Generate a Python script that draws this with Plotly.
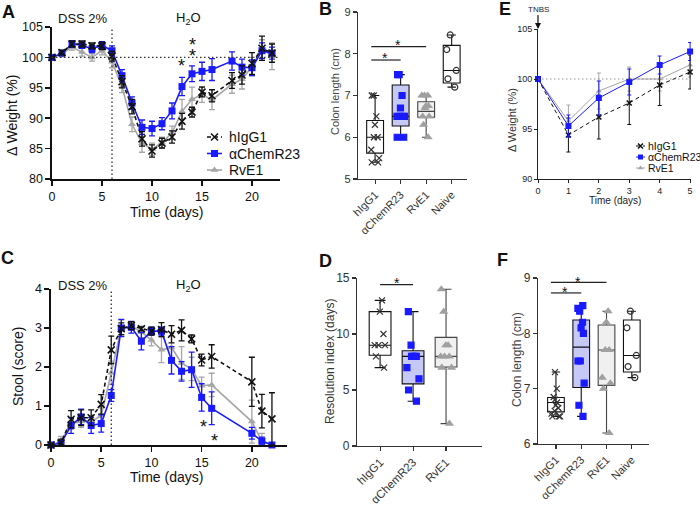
import plotly.graph_objects as go

FONT = "Arial, Liberation Sans, sans-serif"
BLUE = "#1a1aff"
GRAY = "#a6a6a6"
BLACK = "#111111"
W, H = 700, 506

# ---------------- Panel A: DSS body weight ----------------
days_a = [0, 1, 2, 3, 4, 5, 6, 7, 8, 9, 10, 11, 12, 13, 14, 15, 16, 18, 19, 20, 21, 22]
wa_igg = [100, 100.8, 102.2, 102.2, 101.9, 101.9, 100.2, 96.0, 91.9, 86.6, 84.6, 85.9, 86.9, 89.5, 91.0, 94.3, 93.7, 96.2, 97.1, 99.0, 101.5, 100.7]
wa_igg_err = [0, 0.4, 0.5, 0.5, 0.5, 0.6, 0.8, 1.0, 1.2, 1.2, 1.0, 0.8, 1.0, 1.3, 0.8, 0.8, 1.0, 1.3, 1.5, 1.8, 2.0, 1.5]
wa_chem = [100, 100.7, 102.2, 102.0, 101.4, 102.0, 101.1, 97.0, 92.5, 88.5, 88.3, 89.1, 91.2, 95.2, 97.3, 97.7, 98.0, 99.4, 98.4, 98.3, 101.1, 100.7]
wa_chem_err = [0, 0.4, 0.5, 0.5, 0.6, 0.6, 0.8, 1.0, 1.0, 1.2, 1.2, 1.0, 1.3, 1.5, 1.3, 1.5, 1.8, 1.5, 1.3, 1.3, 1.3, 1.0]
wa_rve = [100, 100.6, 101.7, 100.9, 100.0, 101.1, 99.3, 95.2, 89.0, 85.9, 84.9, 86.0, 87.6, 91.1, 93.1, 93.9, 93.0, 95.6, 96.4, 98.5, 101.4, 100.2]
wa_rve_err = [0, 0.5, 0.5, 0.7, 0.6, 0.7, 1.0, 1.0, 1.2, 1.5, 1.0, 0.9, 1.1, 2.0, 2.0, 1.3, 1.6, 1.5, 1.6, 1.5, 1.5, 2.2]

# ---------------- Panel C: stool score ----------------
days_c = [0, 1, 2, 3, 4, 5, 6, 7, 8, 9, 10, 11, 12, 13, 14, 15, 16, 20, 21, 22]
sc_igg = [0, 0.05, 0.66, 0.7, 0.7, 1.04, 2.44, 2.98, 3.06, 2.98, 2.92, 2.96, 2.84, 2.94, 2.72, 2.18, 2.27, 1.62, 0.87, 0.67]
sc_igg_err = [0, 0.1, 0.22, 0.2, 0.2, 0.25, 0.35, 0.15, 0.1, 0.05, 0.1, 0.18, 0.22, 0.27, 0.1, 0.15, 0.3, 0.63, 0.43, 0.67]
sc_chem = [0, 0.05, 0.5, 0.72, 0.5, 0.55, 1.27, 3.0, 3.02, 2.66, 2.92, 2.92, 2.17, 1.89, 1.93, 1.22, 0.94, 0.3, 0.1, 0.0]
sc_chem_err = [0, 0.05, 0.2, 0.2, 0.2, 0.22, 0.15, 0.22, 0.15, 0.22, 0.1, 0.1, 0.35, 0.25, 0.45, 0.35, 0.42, 0.15, 0.1, 0.05]
sc_rve = [0, 0.1, 0.55, 0.6, 0.6, 0.75, 1.85, 3.0, 3.05, 2.9, 2.69, 2.44, 2.5, 2.1, 1.95, 1.52, 1.54, 0.6, 0.1, 0.0]
sc_rve_err = [0, 0.12, 0.15, 0.15, 0.15, 0.2, 0.3, 0.2, 0.1, 0.15, 0.15, 0.33, 0.3, 0.42, 0.3, 0.22, 0.3, 0.55, 0.2, 0.05]

# ---------------- Panel E: TNBS body weight ----------------
days_e = [0, 1, 2, 3, 4, 5]
we_igg = [100, 94.4, 96.2, 97.6, 99.4, 100.7]
we_igg_err = [0, 1.7, 2.2, 2.15, 2.05, 1.7]
we_chem = [100, 95.3, 98.1, 99.7, 101.4, 102.75]
we_chem_err = [0, 1.1, 1.7, 1.3, 0.9, 0.9]
we_rve = [100, 95.8, 98.8, 100.0, 100.0, 101.4]
we_rve_err = [0, 1.6, 1.8, 1.2, 1.2, 1.2]

# ---------------- Panel B: colon length (DSS) ----------------
cats_b = ["hIgG1", "αChemR23", "RvE1", "Naive"]
b_q1 = [5.62, 6.27, 6.48, 7.3]
b_med = [6.0, 6.5, 6.62, 7.6]
b_q3 = [6.4, 7.25, 6.85, 8.2]
b_lo = [5.4, 6.0, 6.0, 7.2]
b_hi = [7.0, 7.5, 7.0, 8.45]
b_pts = [
    [7.0, 7.0, 6.5, 6.3, 6.0, 6.0, 5.7, 5.5, 5.4, 5.4],
    [7.5, 7.5, 7.0, 6.7, 6.5, 6.5, 6.5, 6.5, 6.0, 6.0],
    [7.0, 7.0, 7.0, 6.75, 6.75, 6.7, 6.5, 6.5, 6.3, 6.0],
    [8.45, 8.1, 7.6, 7.4, 7.2],
]

# ---------------- Panel D: resolution index ----------------
cats_d = ["hIgG1", "αChemR23", "RvE1"]
d_q1 = [8.1, 5.55, 7.05]
d_med = [9.0, 8.0, 8.0]
d_q3 = [12.0, 8.5, 9.7]
d_lo = [7, 4, 2]
d_hi = [13, 12, 14]
d_pts = [
    [13, 12, 10, 9, 9, 9, 8, 7],
    [12, 9, 8, 8, 8, 8, 7, 6, 5, 4],
    [14, 12, 9, 9, 8, 8, 8, 7, 7, 2],
]

# ---------------- Panel F: colon length (TNBS) ----------------
cats_f = ["hIgG1", "αChemR23", "RvE1", "Naive"]
f_q1 = [6.58, 7.02, 7.06, 7.3]
f_med = [6.75, 7.75, 7.7, 7.6]
f_q3 = [6.84, 8.24, 8.15, 8.24]
f_lo = [6.5, 6.5, 6.2, 7.2]
f_hi = [7.3, 8.5, 8.4, 8.4]
f_pts = [
    [7.3, 7.0, 6.85, 6.8, 6.75, 6.7, 6.65, 6.6, 6.55, 6.5, 6.5, 6.5],
    [8.5, 8.45, 8.4, 8.2, 8.1, 8.0, 7.5, 7.5, 7.1, 6.7, 6.5],
    [8.4, 8.2, 7.7, 7.7, 7.2, 7.1, 7.0, 6.2],
    [8.4, 8.1, 7.6, 7.4, 7.2],
]

groups = ["hIgG1", "αChemR23", "RvE1"]

line_style = {
    "hIgG1": dict(color=BLACK, dash="4px,3px"),
    "αChemR23": dict(color=BLUE, dash="solid"),
    "RvE1": dict(color=GRAY, dash="solid"),
}
sym = {"hIgG1": "x-thin-open", "αChemR23": "square", "RvE1": "triangle-up"}
box_fill = {"hIgG1": "white", "αChemR23": "#c6c8f6", "RvE1": "#f0f0f0", "Naive": "white"}
pt_color = {"hIgG1": "#333333", "αChemR23": BLUE, "RvE1": "#a0a0a0", "Naive": "#333333"}
pt_sym = {"hIgG1": "x-thin-open", "αChemR23": "square", "RvE1": "triangle-up", "Naive": "circle-open"}

fig = go.Figure()


def px_x(p):
    return p / W


def px_y(p):
    return 1 - p / H


def add_series(xs, ys, errs, g, xa, ya, lw, msize, ew, capw):
    st = line_style[g]
    fig.add_trace(go.Scatter(
        x=xs, y=ys, mode="lines+markers", xaxis=xa, yaxis=ya,
        line=dict(color=st["color"], width=lw, dash=st["dash"]),
        marker=dict(symbol=sym[g], size=msize, color=st["color"],
                    line=dict(color=st["color"], width=1.6 if g == "hIgG1" else 0)),
        error_y=dict(type="data", array=errs, visible=True, color=st["color"],
                     thickness=ew, width=capw),
        cliponaxis=False, showlegend=False, hoverinfo="skip"))


A_data = {"hIgG1": (wa_igg, wa_igg_err), "αChemR23": (wa_chem, wa_chem_err), "RvE1": (wa_rve, wa_rve_err)}
C_data = {"hIgG1": (sc_igg, sc_igg_err), "αChemR23": (sc_chem, sc_chem_err), "RvE1": (sc_rve, sc_rve_err)}
E_data = {"hIgG1": (we_igg, we_igg_err), "αChemR23": (we_chem, we_chem_err), "RvE1": (we_rve, we_rve_err)}
for g in ["RvE1", "αChemR23", "hIgG1"]:
    add_series(days_a, A_data[g][0], A_data[g][1], g, "x", "y", 1.6, 7, 1.3, 3)
for g in ["RvE1", "αChemR23", "hIgG1"]:
    add_series(days_c, C_data[g][0], C_data[g][1], g, "x4", "y4", 1.6, 7, 1.3, 3)
for g in ["RvE1", "hIgG1", "αChemR23"]:
    add_series(days_e, E_data[g][0], E_data[g][1], g, "x3", "y3", 1.0, 5 if g != "αChemR23" else 6, 1.0, 2)


def add_boxes(cats, q1, med, q3, lo, hi, pts, xa, ya, msize):
    for i, c in enumerate(cats):
        lc = "#444444" if c == "RvE1" else "#111111"
        fig.add_trace(go.Box(
            x=[c], q1=[q1[i]], median=[med[i]], q3=[q3[i]], lowerfence=[lo[i]], upperfence=[hi[i]],
            fillcolor=box_fill[c], line=dict(color=lc, width=1.1), width=0.66, whiskerwidth=0.5,
            boxpoints=False, xaxis=xa, yaxis=ya, showlegend=False, hoverinfo="skip"))
        fig.add_trace(go.Box(
            x=[c] * len(pts[i]), y=pts[i], boxpoints="all", jitter=0.7, pointpos=0,
            fillcolor="rgba(0,0,0,0)", line=dict(color="rgba(0,0,0,0)", width=0), width=0.66,
            marker=dict(symbol=pt_sym[c], size=msize, color=pt_color[c],
                        line=dict(color=pt_color[c], width=1.2)),
            xaxis=xa, yaxis=ya, showlegend=False, hoverinfo="skip"))


add_boxes(cats_b, b_q1, b_med, b_q3, b_lo, b_hi, b_pts, "x2", "y2", 6)
add_boxes(cats_d, d_q1, d_med, d_q3, d_lo, d_hi, d_pts, "x5", "y5", 6)
add_boxes(cats_f, f_q1, f_med, f_q3, f_lo, f_hi, f_pts, "x6", "y6", 6)


# ---------------- manual legends on a pixel-coordinate overlay axis ----------------
def legend_entry(x0, x1, y, g, msize, lw, text, tx, fs):
    st = line_style[g]
    fig.add_trace(go.Scatter(x=[x0, x1], y=[y, y], mode="lines", xaxis="x7", yaxis="y7",
                             line=dict(color=st["color"], width=lw, dash=st["dash"]),
                             showlegend=False, hoverinfo="skip"))
    fig.add_trace(go.Scatter(x=[(x0 + x1) / 2], y=[y], mode="markers", xaxis="x7", yaxis="y7",
                             marker=dict(symbol=sym[g], size=msize, color=st["color"],
                                         line=dict(color=st["color"], width=1.5 if g == "hIgG1" else 0)),
                             showlegend=False, hoverinfo="skip"))
    fig.add_annotation(x=px_x(tx), y=px_y(y), xref="paper", yref="paper", text=text,
                       showarrow=False, xanchor="left", yanchor="middle",
                       font=dict(size=fs, color="#111", family=FONT))


for g, yy in zip(groups, [137, 153.5, 170]):
    legend_entry(207, 222, yy, g, 7, 1.6, g, 227, 14)
for g, yy in zip(groups, [146, 157, 168]):
    legend_entry(636, 645, yy, g, 5, 1.0, g, 646, 10.5)


# ---------------- axes ----------------
def axis(fs, lw=1.3, color="#111111", ticklen=5):
    return dict(showgrid=False, zeroline=False, showline=True, linecolor=color, linewidth=lw,
                ticks="outside", ticklen=ticklen, tickwidth=lw, tickcolor=color,
                tickfont=dict(size=fs, color=color, family=FONT), fixedrange=True, automargin=False)


layout = dict(
    width=W, height=H, margin=dict(l=0, r=0, t=0, b=0, pad=0), autosize=False,
    paper_bgcolor="white", plot_bgcolor="rgba(0,0,0,0)", showlegend=False,
    boxmode="overlay", font=dict(family=FONT, color="#111"),
)
layout["xaxis"] = dict(axis(12.5, 1.6), domain=[px_x(52), px_x(280)], range=[0, 22.8],
                       tickvals=[0, 5, 10, 15, 20], anchor="y")
layout["yaxis"] = dict(axis(12.5, 1.6), domain=[px_y(179), px_y(27)], range=[80, 105],
                       tickvals=[80, 85, 90, 95, 100, 105], anchor="x")
layout["xaxis2"] = dict(axis(11, 1.1, "#333", 4), domain=[px_x(358), px_x(467)], type="category",
                        categoryorder="array", categoryarray=cats_b, range=[-0.67, 3.6],
                        tickangle=-45, anchor="y2")
layout["yaxis2"] = dict(axis(11, 1.1, "#333", 4), domain=[px_y(179), px_y(12)], range=[5, 9],
                        tickvals=[5, 6, 7, 8, 9], anchor="x2")
layout["xaxis3"] = dict(axis(9, 1.0, "#222", 3), domain=[px_x(538), px_x(691)], range=[0, 5.03],
                        tickvals=[0, 1, 2, 3, 4, 5], anchor="y3")
layout["yaxis3"] = dict(axis(9, 1.0, "#222", 3), domain=[px_y(179), px_y(29)], range=[90, 105],
                        tickvals=[90, 95, 100, 105], anchor="x3")
layout["xaxis4"] = dict(axis(12.5, 1.6), domain=[px_x(51), px_x(287)], range=[0, 23.5],
                        tickvals=[0, 5, 10, 15, 20], anchor="y4")
layout["yaxis4"] = dict(axis(12.5, 1.6), domain=[px_y(445), px_y(289)], range=[0, 4],
                        tickvals=[0, 1, 2, 3, 4], anchor="x4")
layout["xaxis5"] = dict(axis(11.5, 1.1, "#333", 4), domain=[px_x(357), px_x(482)], type="category",
                        categoryorder="array", categoryarray=cats_d, range=[-0.7, 3.09],
                        tickangle=-45, anchor="y5")
layout["yaxis5"] = dict(axis(12, 1.1, "#333", 4), domain=[px_y(446), px_y(278)], range=[0, 15],
                        tickvals=[0, 5, 10, 15], anchor="x5")
layout["xaxis6"] = dict(axis(11, 1.1, "#333", 4), domain=[px_x(538), px_x(649)], type="category",
                        categoryorder="array", categoryarray=cats_f, range=[-0.71, 3.68],
                        tickangle=-45, anchor="y6")
layout["yaxis6"] = dict(axis(12, 1.1, "#333", 4), domain=[px_y(444), px_y(278)], range=[6, 9],
                        tickvals=[6, 7, 8, 9], anchor="x6")
layout["xaxis7"] = dict(domain=[0, 1], range=[0, W], visible=False, fixedrange=True, anchor="y7")
layout["yaxis7"] = dict(domain=[0, 1], range=[H, 0], visible=False, fixedrange=True, anchor="x7")
fig.update_layout(**layout)

# ---------------- reference lines ----------------
dot = "1.5px,2.5px"
fig.add_shape(type="line", xref="x", yref="y", x0=6, x1=6, y0=80, y1=105.3,
              line=dict(color="#222", width=1.2, dash=dot))
fig.add_shape(type="line", xref="x", yref="y", x0=0, x1=22.8, y0=100, y1=100,
              line=dict(color="#333", width=1.2, dash=dot))
fig.add_shape(type="line", xref="x4", yref="y4", x0=6, x1=6, y0=0, y1=4,
              line=dict(color="#222", width=1.2, dash=dot))
fig.add_shape(type="line", xref="x3", yref="y3", x0=0, x1=5, y0=100, y1=100,
              line=dict(color="#777", width=0.8, dash=dot))

brackets = [
    ("x2", "y2", -0.15, 1.0, 7.85), ("x2", "y2", -0.15, 2.0, 8.17),
    ("x5", "y5", 0.0, 1.0, 14.4),
    ("x6", "y6", -0.2, 1.0, 8.73), ("x6", "y6", -0.2, 2.0, 8.92),
]
for xa, ya, x0, x1, yv in brackets:
    fig.add_shape(type="line", xref=xa, yref=ya, x0=x0, x1=x1, y0=yv, y1=yv,
                  line=dict(color="#222", width=1.2))

stars = [
    ("x", "y", 12.9, 99.4, 18), ("x", "y", 14.0, 102.8, 18), ("x", "y", 14.0, 100.9, 18),
    ("x4", "y4", 15.2, 0.57, 18), ("x4", "y4", 16.3, 0.21, 18),
    ("x2", "y2", 0.4, 7.97, 14), ("x2", "y2", 0.89, 8.29, 14),
    ("x5", "y5", 0.5, 14.85, 14),
    ("x6", "y6", 0.36, 8.81, 14), ("x6", "y6", 0.87, 9.0, 14),
]
for xa, ya, xv, yv, fs in stars:
    fig.add_annotation(x=xv, y=yv, xref=xa, yref=ya, text="*", showarrow=False,
                       yshift=-0.25 * fs, font=dict(size=fs, color="#111", family=FONT))


def txt(x, y, s, fs, angle=0, bold=False, color="#111", xanchor="center"):
    fig.add_annotation(x=px_x(x), y=px_y(y), xref="paper", yref="paper",
                       text=f"<b>{s}</b>" if bold else s, showarrow=False, textangle=angle,
                       xanchor=xanchor, yanchor="middle",
                       font=dict(size=fs, color=color, family=FONT))


for s, x, y in [("A", 8, 12), ("B", 325, 9), ("E", 505, 9), ("C", 7, 258), ("D", 325, 261), ("F", 503, 260)]:
    txt(x, y, s, 18, bold=True)

txt(83, 18, "DSS 2%", 13)
txt(188, 18, "H<sub>2</sub>O", 13)
txt(83, 285, "DSS 2%", 13)
txt(188, 285, "H<sub>2</sub>O", 13)

txt(12, 116, "Δ Weight (%)", 14, angle=-90)
txt(166, 212, "Time (days)", 14)
txt(18, 367, "Stool (score)", 14, angle=-90)
txt(166, 477, "Time (days)", 14)
txt(335, 92, "Colon length (cm)", 11, angle=-90, color="#444")
txt(330, 362, "Resolution index (days)", 12, angle=-90, color="#333")
txt(512, 120, "Δ Weight (%)", 11, angle=-90, color="#333")
txt(615, 201, "Time (days)", 10, color="#222")
txt(517, 360, "Colon length (cm)", 12, angle=-90, color="#444")

fig.add_annotation(x=0, y=105, xref="x3", yref="y3", text="TNBS", showarrow=True,
                   arrowhead=2, arrowsize=1, arrowwidth=1.2, arrowcolor="#111",
                   ax=0, ay=-20, font=dict(size=8, color="#222", family=FONT))

fig.write_html(
    "out.html",
    config={"displayModeBar": False, "staticPlot": True},
    post_script="document.body.style.margin='0px';document.body.style.overflow='hidden';",
)
